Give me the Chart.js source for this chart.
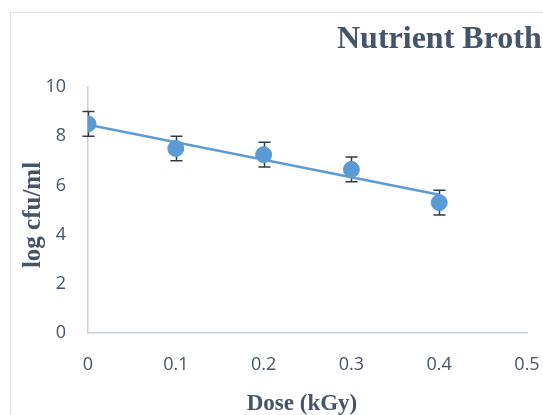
<!DOCTYPE html>
<html lang="en">
<head>
  <meta charset="UTF-8">
  <title>Nutrient Broth</title>
  <script src="https://cdn.jsdelivr.net/npm/chart.js@4.4.1/dist/chart.umd.min.js"></script>
  <style>
    body { margin: 0; background: #fff; }
    canvas { display: block; }
  </style>
</head>
<body>
  <canvas id="chart" width="543" height="415"></canvas>
  <script>
    const doses = [0, 0.1, 0.2, 0.3, 0.4];
    const logCfu = [8.5, 7.5, 7.25, 6.65, 5.3];
    const errors = [0.5, 0.5, 0.5, 0.5, 0.5];
    const trendX = [0, 0.4];
    const trendY = [8.47, 5.62];
    const xTickLabels = ['0', '0.1', '0.2', '0.3', '0.4', '0.5'];
    const yTickLabels = ['0', '2', '4', '6', '8', '10'];

    const blue = '#5b9bd5';
    const textCol = '#44546a';
    const axisCol = '#c9d1dd';

    // frame, title, axis titles and error bars
    const extras = {
      id: 'extras',
      beforeDraw(chart) {
        const c = chart.ctx;
        c.save();
        c.fillStyle = '#fff';
        c.fillRect(0, 0, chart.width, chart.height);
        c.strokeStyle = '#dde3ec';
        c.lineWidth = 1;
        c.strokeRect(10.5, 12.5, 600, 500);
        c.restore();
      },
      beforeDatasetsDraw(chart) {
        const c = chart.ctx, x = chart.scales.x, y = chart.scales.y;
        c.save();
        c.strokeStyle = '#2f3b4c';
        c.lineWidth = 1.5;
        doses.forEach((d, i) => {
          const px = Math.round(x.getPixelForValue(d)) + 0.5;
          const top = y.getPixelForValue(logCfu[i] + errors[i]);
          const bot = y.getPixelForValue(logCfu[i] - errors[i]);
          c.beginPath();
          c.moveTo(px, top); c.lineTo(px, bot);
          c.moveTo(px - 6, top); c.lineTo(px + 6, top);
          c.moveTo(px - 6, bot); c.lineTo(px + 6, bot);
          c.stroke();
        });
        c.restore();
      },
      afterDraw(chart) {
        const c = chart.ctx;
        c.save();
        c.fillStyle = textCol;
        c.font = 'bold 32px "Liberation Serif"';
        c.textAlign = 'left';
        c.textBaseline = 'alphabetic';
        c.fillText('Nutrient Broth', 337, 48);
        c.font = 'bold 23px "Liberation Serif"';
        c.textAlign = 'center';
        c.fillText('Dose (kGy)', 302, 410);
        c.font = 'bold 25px "Liberation Serif"';
        c.translate(40, 215);
        c.rotate(-Math.PI / 2);
        c.fillText('log cfu/ml', 0, 0);
        c.restore();
      }
    };

    new Chart(document.getElementById('chart'), {
      type: 'scatter',
      plugins: [extras],
      data: {
        datasets: [
          {
            label: 'Trend',
            data: trendX.map((v, i) => ({ x: v, y: trendY[i] })),
            showLine: true,
            borderColor: blue,
            borderWidth: 2.5,
            pointRadius: 0,
            order: 0
          },
          {
            label: 'log cfu/ml',
            data: doses.map((v, i) => ({ x: v, y: logCfu[i] })),
            backgroundColor: blue,
            borderColor: blue,
            pointRadius: 8,
            order: 1
          }
        ]
      },
      options: {
        responsive: false,
        animation: false,
        layout: { autoPadding: false, padding: { left: 10, top: 87, right: 1, bottom: 0 } },
        plugins: { legend: { display: false }, tooltip: { enabled: false } },
        scales: {
          x: {
            type: 'linear', min: 0, max: 0.5,
            grid: { display: false, drawTicks: false },
            border: { color: axisCol, width: 1.5 },
            ticks: {
              stepSize: 0.1, padding: 21, color: textCol,
              font: { family: '"Open Sans"', size: 18 },
              callback: (v, i) => xTickLabels[i]
            },
            afterFit: s => { s.height = 82; s.paddingRight = 16; s.paddingLeft = 0; }
          },
          y: {
            min: 0, max: 10,
            grid: { display: false, drawTicks: false },
            border: { color: axisCol, width: 1.5 },
            ticks: {
              stepSize: 2, padding: 22, color: textCol,
              font: { family: '"Open Sans"', size: 18 },
              callback: (v, i) => yTickLabels[i]
            },
            afterFit: s => { s.width = 78; s.paddingTop = 0; s.paddingBottom = 0; }
          }
        }
      }
    });
  </script>
</body>
</html>
